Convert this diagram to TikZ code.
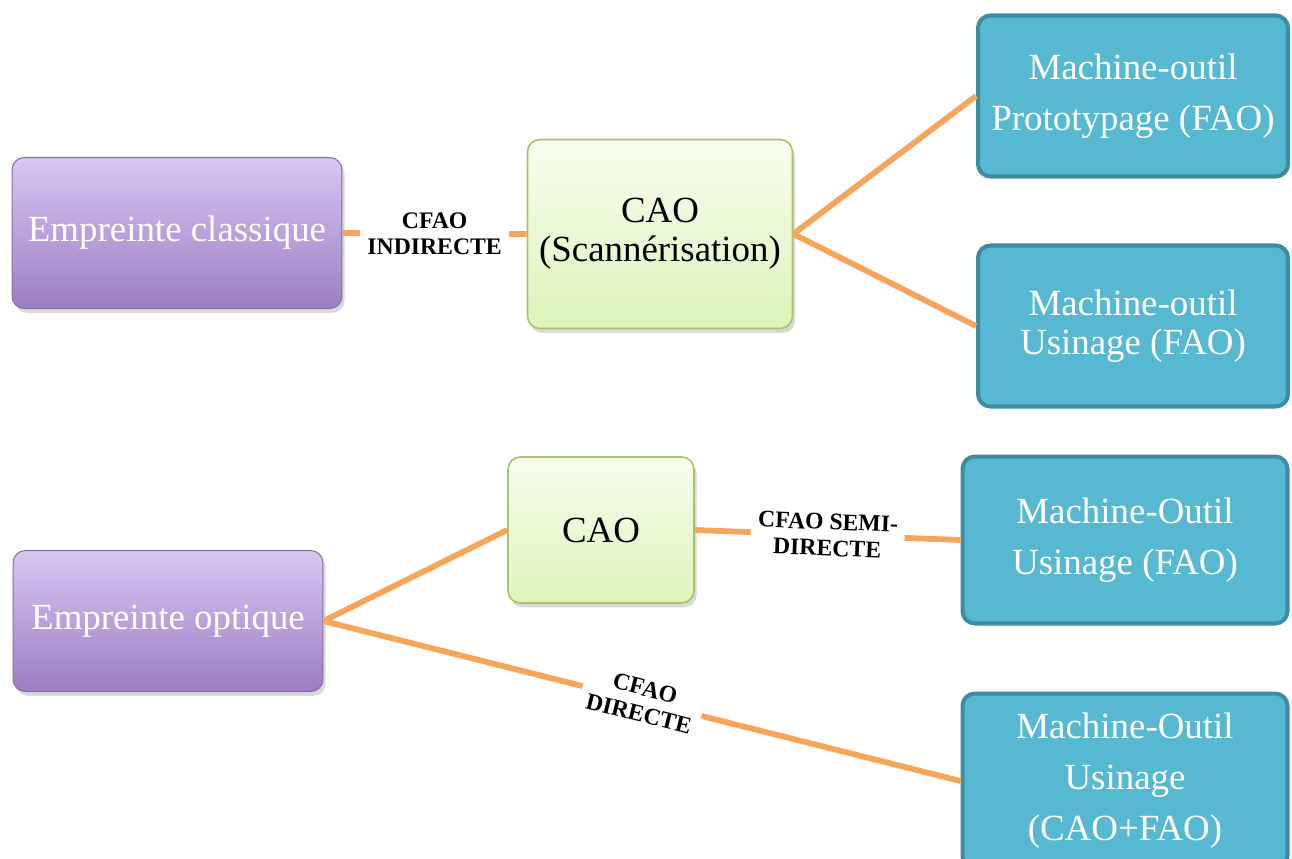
\documentclass[tikz,border=0pt]{standalone}
\usepackage{fontspec}
\setmainfont{Liberation Serif}
\usetikzlibrary{shadows}
\definecolor{imptop}{HTML}{D8C6F3}
\definecolor{impbot}{HTML}{9B7EC2}
\definecolor{impline}{HTML}{85709F}
\definecolor{caotop}{HTML}{F7FDEE}
\definecolor{caobot}{HTML}{DDF4BA}
\definecolor{caoline}{HTML}{A5C56C}
\definecolor{machfill}{HTML}{57B9D1}
\definecolor{machline}{HTML}{3E8CA2}
\definecolor{linkcol}{HTML}{F6A55A}
\begin{document}
\begin{tikzpicture}[x=0.02cm, y=-0.02cm, font=\fontsize{21}{22}\selectfont,
  boxshadow/.style={drop shadow={shadow xshift=1.5pt, shadow yshift=-2.5pt, opacity=0.3}},
  empreinte/.style={draw=impline, line width=0.6pt, rounded corners=7pt,
    top color=imptop, bottom color=impbot, text=white, boxshadow, align=center},
  cao/.style={draw=caoline, line width=0.9pt, rounded corners=7pt,
    top color=caotop, bottom color=caobot, boxshadow, align=center},
  machine/.style={draw=machline, line width=2.3pt, rounded corners=7pt,
    fill=machfill, text=white, align=center},
  wide/.style={font=\fontsize{21}{29}\selectfont},
  link/.style={draw=linkcol, line width=3.3pt},
  tag/.style={fill=white, font=\bfseries\fontsize{13.5}{15}\selectfont, align=center, inner sep=4pt}]
  \useasboundingbox (0,0) rectangle (1292,859);
  % top row
  \node[empreinte, minimum width=6.6cm, minimum height=3.02cm] (classique) at (177,233) {Empreinte classique};
  \node[cao, minimum width=5.3cm, minimum height=3.78cm] (scan) at (660,234) {CAO\\(Scannérisation)};
  \node[machine, wide, minimum width=6.2cm, minimum height=3.22cm] (proto) at (1133,96) {Machine-outil\\Prototypage (FAO)};
  \node[machine, minimum width=6.2cm, minimum height=3.22cm] (usin) at (1133,326) {Machine-outil\\Usinage (FAO)};
  % bottom row
  \node[empreinte, minimum width=6.2cm, minimum height=2.82cm] (optique) at (168,621) {Empreinte optique};
  \node[cao, minimum width=3.72cm, minimum height=2.92cm] (cao) at (601,530) {CAO};
  \node[machine, wide, minimum width=6.5cm, minimum height=3.34cm] (usinsemi) at (1125,540) {Machine-Outil\\Usinage (FAO)};
  \node[machine, wide, minimum width=6.5cm, minimum height=3.5cm] (usindir) at (1125,781) {Machine-Outil\\Usinage\\(CAO+FAO)};
  % links
  \path[link] (classique.east) -- node[tag] {CFAO\\INDIRECTE} (scan.west);
  \path[link] (scan.east) -- (proto.west);
  \path[link] (scan.east) -- (usin.west);
  \path[link] (cao.east) -- node[tag, sloped] {CFAO SEMI-\\DIRECTE} (usinsemi.west);
  \path[link] (optique.east) -- (cao.west);
  \path[link] (optique.east) -- node[tag, sloped] {CFAO\\DIRECTE} (usindir.west);
\end{tikzpicture}
\end{document}
